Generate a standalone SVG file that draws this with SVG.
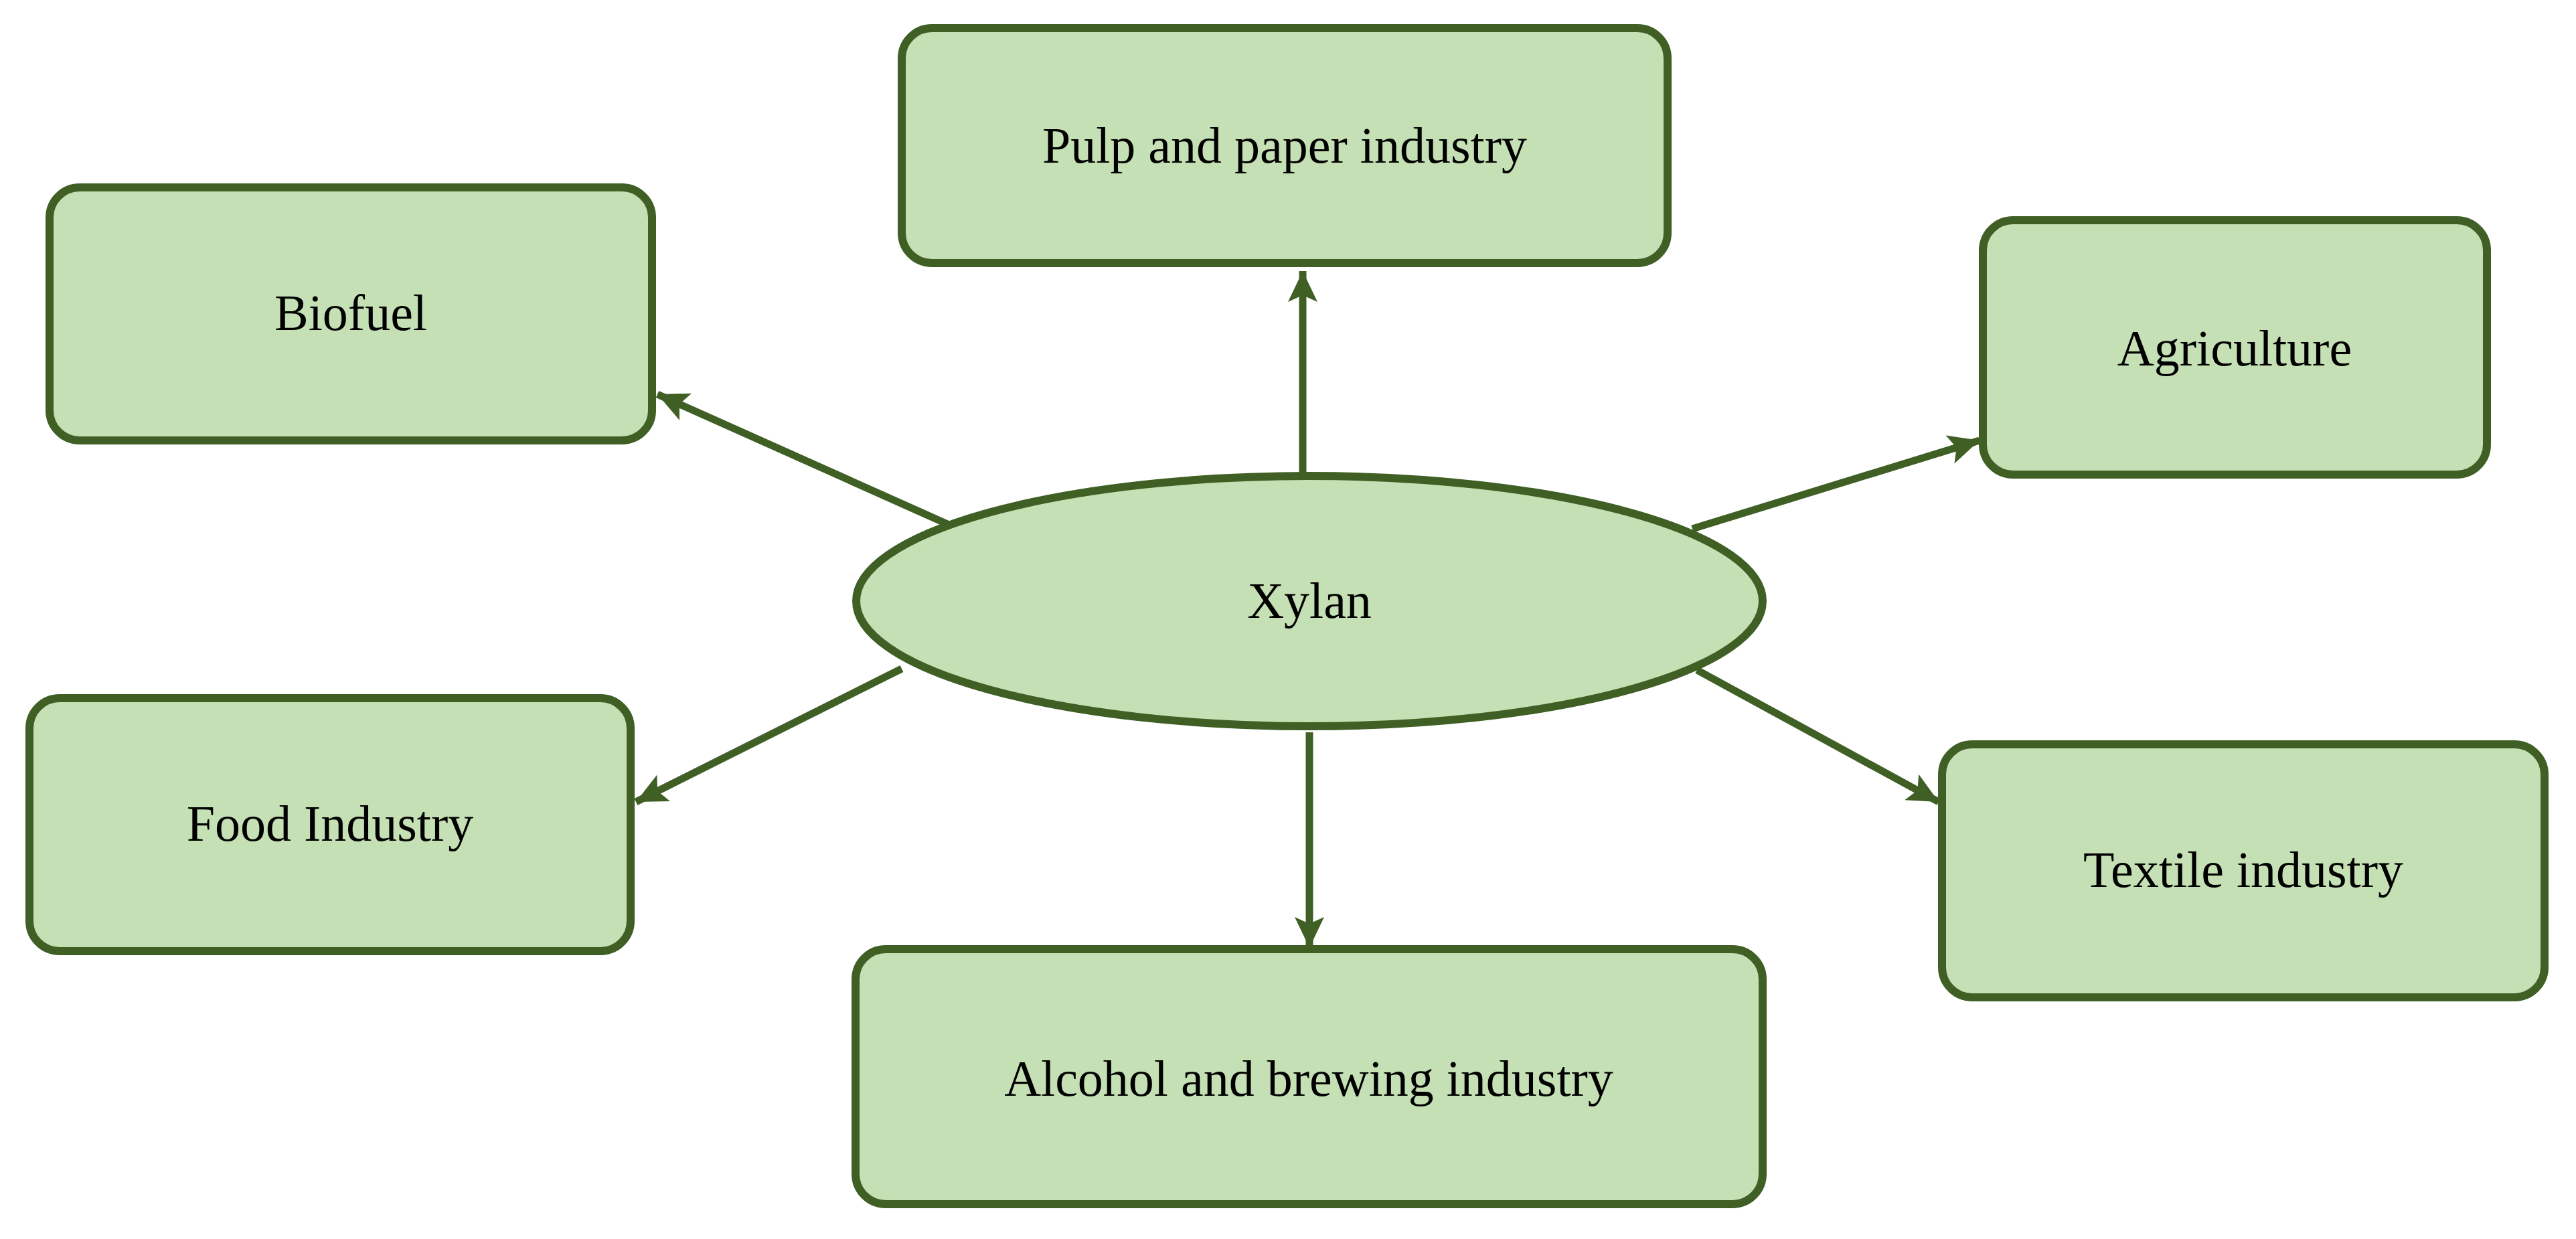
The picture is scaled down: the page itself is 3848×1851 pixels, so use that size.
<svg xmlns="http://www.w3.org/2000/svg" width="3848" height="1851" viewBox="0 0 3848 1851">
<style>
.n{fill:#c5e0b4;stroke:#3f5f24;stroke-width:12}
.t{font-family:"Liberation Serif",serif;font-size:76px;fill:#000;text-anchor:middle}
.c{stroke:#3f5f24;stroke-width:11;fill:none;marker-end:url(#a)}
</style>
<defs><marker id="a" markerUnits="userSpaceOnUse" markerWidth="50" markerHeight="44" refX="46" refY="22" orient="auto"><path d="M0,0L46,22L0,44L10,22Z" fill="#3f5f24"/></marker></defs>
<rect width="3848" height="1851" fill="#fff"/>
<g id="connectors">
<line class="c" x1="1946" y1="712" x2="1946" y2="405"/>
<line class="c" x1="1431" y1="790" x2="982" y2="589"/>
<line class="c" x1="2528" y1="790" x2="2957" y2="658"/>
<line class="c" x1="1347" y1="999" x2="950" y2="1198"/>
<line class="c" x1="1956" y1="1094" x2="1956" y2="1416"/>
<line class="c" x1="2535" y1="1001" x2="2896" y2="1198"/>
</g>
<g id="xylan"><ellipse class="n" cx="1956" cy="898" rx="677" ry="187"/><text class="t" x="1956" y="923">Xylan</text></g>
<g id="pulp"><rect class="n" x="1347" y="42" width="1144" height="351" rx="45"/><text class="t" x="1919" y="243">Pulp and paper industry</text></g>
<g id="biofuel"><rect class="n" x="74" y="280" width="900" height="378" rx="45"/><text class="t" x="524" y="493">Biofuel</text></g>
<g id="agri"><rect class="n" x="2962" y="329" width="753" height="380" rx="45"/><text class="t" x="3338" y="546">Agriculture</text></g>
<g id="food"><rect class="n" x="44" y="1043" width="898" height="378" rx="45"/><text class="t" x="493" y="1256">Food Industry</text></g>
<g id="textile"><rect class="n" x="2901" y="1112" width="900" height="378" rx="45"/><text class="t" x="3351" y="1325">Textile industry</text></g>
<g id="alcohol"><rect class="n" x="1278" y="1418" width="1355" height="381" rx="45"/><text class="t" x="1955" y="1637">Alcohol and brewing industry</text></g>
</svg>
